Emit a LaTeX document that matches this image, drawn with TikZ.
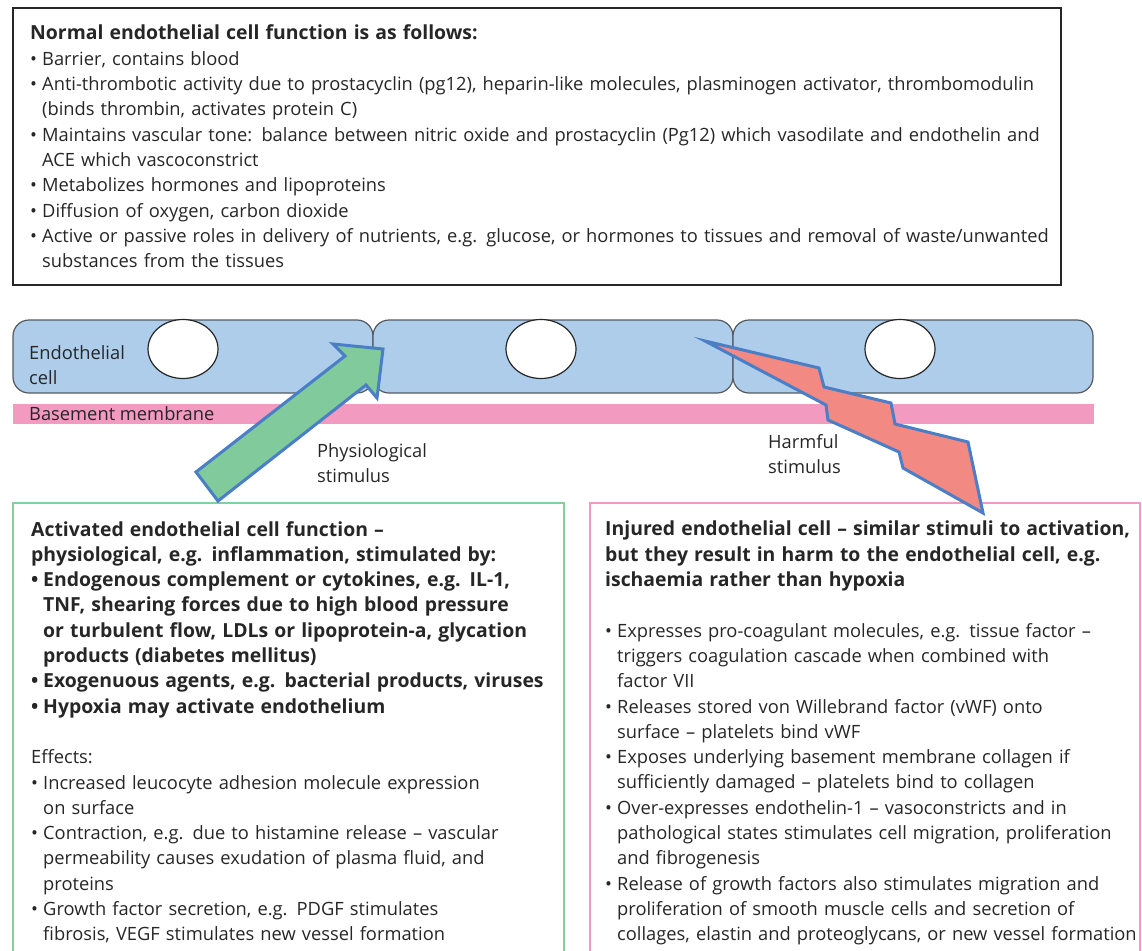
\documentclass[tikz,border=0pt]{standalone}
\usepackage{fontspec}
\setmainfont{Open Sans}[BoldFeatures={Scale=1.06}]
\usetikzlibrary{positioning,shapes.geometric}

\definecolor{ink}{HTML}{262626}
\definecolor{cellblue}{HTML}{ADCDEB}
\definecolor{cellline}{HTML}{555A60}
\definecolor{membranepink}{HTML}{F39AC1}
\definecolor{arrowgreen}{HTML}{80CA9C}
\definecolor{arrowblue}{HTML}{4A7EC7}
\definecolor{boltred}{HTML}{F28983}
\definecolor{framegreen}{HTML}{82CFA0}
\definecolor{framepink}{HTML}{F29BC2}

\newcommand{\bitem}{\par\hangindent=12pt\hangafter=1\noindent\makebox[12pt][l]{\textbullet}}

\tikzset{
  cellbox/.style={draw=cellline, fill=cellblue, line width=1.2pt, rounded corners=16pt,
    minimum width=360pt, minimum height=73pt, inner sep=0pt, outer sep=0pt},
  nucleus/.style={ellipse, draw=ink, fill=white, line width=1.2pt,
    minimum width=70pt, minimum height=59pt, inner sep=0pt},
  tag/.style={align=left, anchor=north west, inner sep=0pt},
  infotext/.style={anchor=north west, inner sep=0pt, text width=#1},
  stimulus/.style={draw=arrowblue, line width=3pt, line join=miter}
}

\begin{document}
\begin{tikzpicture}[x=1pt, y=-1pt, font=\fontsize{18.3}{25.3}\selectfont, text=ink]
    \useasboundingbox (0,0) rectangle (1142,950);
    \clip (0,0) rectangle (1142,950);

    % Draw normal function box
    \draw[ink, line width=1.2pt] (13,8) rectangle (1061,285);
    \node[infotext=1100pt, anchor=west] (normal) at (30,146.5) {\noindent\textbf{Normal endothelial cell function is as follows:}
      \bitem Barrier, contains blood
      \bitem Anti-thrombotic activity due to prostacyclin (pg12), heparin-like molecules, plasminogen activator, thrombomodulin\newline (binds thrombin, activates protein C)
      \bitem Maintains vascular tone: balance between nitric oxide and prostacyclin (Pg12) which vasodilate and endothelin and\newline ACE which vascoconstrict
      \bitem Metabolizes hormones and lipoproteins
      \bitem Diffusion of oxygen, carbon dioxide
      \bitem Active or passive roles in delivery of nutrients, e.g. glucose, or hormones to tissues and removal of waste/unwanted\newline substances from the tissues\par};

    % Draw cells
    \node[cellbox, anchor=north west] (cellA) at (13,320) {};
    \node[cellbox, right=0pt of cellA] (cellB) {};
    \node[cellbox, right=0pt of cellB] (cellC) {};
    \node[nucleus] (nucA) at (183,349) {};
    \node[nucleus] (nucB) at (541,349) {};
    \node[nucleus] (nucC) at (900,349) {};
    \node[tag] (celltag) at (29,345) {Endothelial\\cell};

    % Draw basement membrane
    \node[fill=membranepink, anchor=north west, minimum width=1081pt, minimum height=20pt, inner sep=0pt] (membrane) at (13,404) {};
    \node[anchor=west, inner sep=0pt] (membranetag) at (29,414) {Basement membrane};

    % Draw lower boxes
    \draw[framegreen, line width=2.5pt] (13,960) |- (564,503) -- (564,960);
    \draw[framepink, line width=2.5pt] (590,960) |- (1140,503) -- (1140,960);

    \node[infotext=600pt] (active) at (31,521) {\noindent\textbf{Activated endothelial cell function –\newline physiological, e.g. inflammation, stimulated by:}
      \bfseries
      \bitem Endogenous complement or cytokines, e.g. IL-1,\newline TNF, shearing forces due to high blood pressure\newline or turbulent flow, LDLs or lipoprotein-a, glycation\newline products (diabetes mellitus)
      \bitem Exogenuous agents, e.g. bacterial products, viruses
      \bitem Hypoxia may activate endothelium
      \par\mdseries\vspace{25.3pt}
      \noindent Effects:
      \bitem Increased leucocyte adhesion molecule expression\newline on surface
      \bitem Contraction, e.g. due to histamine release – vascular\newline permeability causes exudation of plasma fluid, and\newline proteins
      \bitem Growth factor secretion, e.g. PDGF stimulates\newline fibrosis, VEGF stimulates new vessel formation\par};

    \node[infotext=600pt] (injured) at (605,521) {\noindent\textbf{Injured endothelial cell – similar stimuli to activation,\newline but they result in harm to the endothelial cell, e.g.\newline ischaemia rather than hypoxia}
      \par\vspace{25.3pt}
      \bitem Expresses pro-coagulant molecules, e.g. tissue factor –\newline triggers coagulation cascade when combined with\newline factor VII
      \bitem Releases stored von Willebrand factor (vWF) onto\newline surface – platelets bind vWF
      \bitem Exposes underlying basement membrane collagen if\newline sufficiently damaged – platelets bind to collagen
      \bitem Over-expresses endothelin-1 – vasoconstricts and in\newline pathological states stimulates cell migration, proliferation\newline and fibrogenesis
      \bitem Release of growth factors also stimulates migration and\newline proliferation of smooth muscle cells and secretion of\newline collages, elastin and proteoglycans, or new vessel formation\par};

    % Draw stimulus arrows
    \filldraw[stimulus, fill=arrowgreen] (196,472) -- (345,356) -- (333,344) -- (383,349)
      -- (377,398) -- (366,385) -- (218,501) -- cycle;
    \filldraw[stimulus, fill=boltred] (705,341) -- (819,368) -- (824,387) -- (891,403) -- (895,424)
      -- (968,442) -- (983,513) -- (903,468) -- (899,452) -- (828,420) -- (826,405) -- cycle;

    % Labels
    \node[tag] (physio) at (317,443) {Physiological\\stimulus};
    \node[tag] (harm) at (768,434) {Harmful\\stimulus};
\end{tikzpicture}
\end{document}
